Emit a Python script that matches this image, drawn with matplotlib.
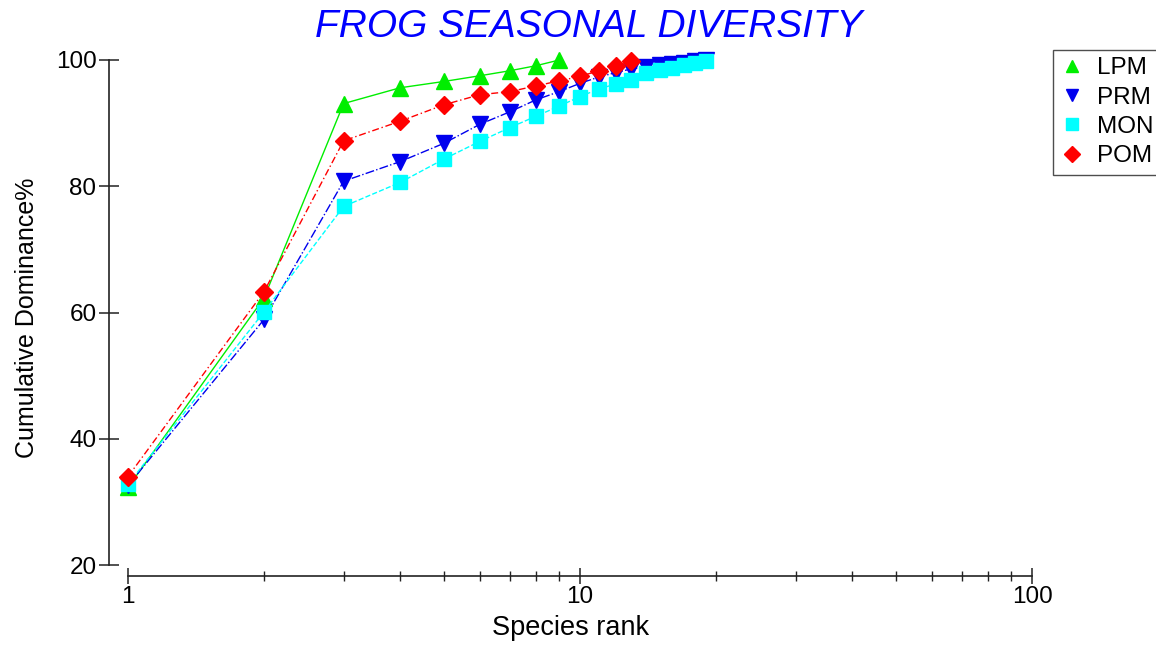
import matplotlib
matplotlib.use("Agg")
import matplotlib.pyplot as plt
from matplotlib.lines import Line2D
from matplotlib.ticker import LogLocator, FixedLocator, FixedFormatter, NullFormatter

plt.rcParams['font.family'] = ['Liberation Sans', 'DejaVu Sans']

# cumulative dominance (%) by species rank, per season
lpm_rank = [1, 2, 3, 4, 5, 6, 7, 8, 9]
lpm_vals = [32.3, 62.3, 93.1, 95.6, 96.6, 97.5, 98.3, 99.1, 100.0]

prm_rank = list(range(1, 20))
prm_vals = [32.6, 58.9, 80.8, 83.9, 86.8, 89.8, 91.8, 93.7, 95.0, 96.3,
            97.3, 98.0, 98.6, 98.9, 99.2, 99.4, 99.6, 99.8, 100.0]

mon_rank = list(range(1, 20))
mon_vals = [32.8, 60.1, 76.8, 80.6, 84.3, 87.1, 89.3, 91.1, 92.7, 94.2,
            95.4, 96.2, 96.9, 97.9, 98.4, 98.8, 99.2, 99.5, 99.8]

pom_rank = list(range(1, 14))
pom_vals = [34.0, 63.3, 87.2, 90.3, 92.9, 94.5, 95.0, 95.9, 96.7, 97.4,
            98.3, 99.0, 99.9]

series = [
    ("LPM", lpm_rank, lpm_vals, "#00ee00", "^", "-", 11),
    ("PRM", prm_rank, prm_vals, "#0000ee", "v", "-.", 11),
    ("MON", mon_rank, mon_vals, "#00ffff", "s", "--", 10.5),
    ("POM", pom_rank, pom_vals, "#ff0000", "D", (0, (5, 2, 1, 2)), 9.5),
]

fig = plt.figure(figsize=(11.56, 6.46), dpi=100)
ax = fig.add_axes([109 / 1156, 70 / 646, 923 / 1156, 516 / 646])

handles = []
for z, (name, xs, ys, col, mk, ls, ms) in enumerate(series):
    ax.plot(xs, ys, color=col, linestyle=ls, linewidth=1.0, marker=mk,
            markersize=ms, markeredgecolor=col, markerfacecolor=col,
            zorder=3 + z, clip_on=False)
    handles.append(Line2D([], [], color=col, marker=mk, linestyle='none',
                          markersize=ms * 0.85, label=name))

ax.set_xscale('log')
ax.set_xlim(0.908, 100)
ax.set_ylim(18.26, 100)

for s in ['top', 'right']:
    ax.spines[s].set_visible(False)
ax.spines['left'].set_bounds(20, 100)
ax.spines['bottom'].set_bounds(1, 100)
for s in ['left', 'bottom']:
    ax.spines[s].set_color('#222222')
    ax.spines[s].set_linewidth(1.2)

ax.set_yticks([20, 40, 60, 80, 100])
ax.xaxis.set_major_locator(FixedLocator([1, 10, 100]))
ax.xaxis.set_major_formatter(FixedFormatter(['1', '10', '100']))
ax.xaxis.set_minor_locator(LogLocator(base=10, subs=range(2, 10)))
ax.xaxis.set_minor_formatter(NullFormatter())

ax.tick_params(axis='y', direction='inout', length=14, width=1.1,
               color='#222222', labelsize=17.5, pad=2)
ax.tick_params(axis='x', which='major', direction='inout', length=11,
               width=1.1, color='#222222', labelsize=17.5, pad=2)
ax.tick_params(axis='x', which='minor', direction='inout', length=6.5,
               width=1.0, color='#222222')

ax.set_xlabel("Species rank", fontsize=19.5, labelpad=5)
ax.set_ylabel("Cumulative Dominance%", fontsize=18, labelpad=12)

fig.text(589 / 1156, 1 - 27 / 646, "FROG SEASONAL DIVERSITY", color='#0000ff',
         fontsize=28, fontstyle='italic', ha='center', va='center')

leg = fig.legend(handles=handles, loc='upper left',
                 bbox_to_anchor=(1053 / 1156, 1 - 50 / 646),
                 fontsize=17.5, frameon=True, fancybox=False,
                 handlelength=1.0, handletextpad=0.5, borderpad=0.3,
                 labelspacing=0.3, borderaxespad=0)
leg.get_frame().set_edgecolor('#222222')
leg.get_frame().set_linewidth(1.0)

fig.savefig("out.png", dpi=100)
